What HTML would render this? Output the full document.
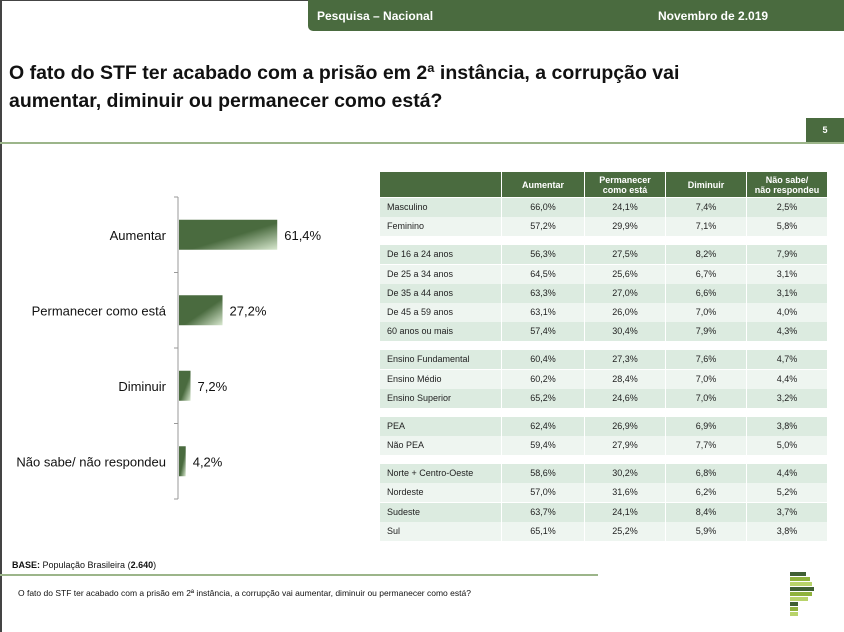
<!DOCTYPE html>
<html><head><meta charset="utf-8"><style>
body{margin:0;width:844px;height:632px;position:relative;overflow:hidden;background:#fff;font-family:"Liberation Sans",sans-serif;}
.abs{position:absolute;}
.row{position:absolute;left:380px;width:448px;height:19px;font-size:9px;color:#222;}
.row div{position:absolute;top:0;height:19px;line-height:19px;border-right:1px solid #fff;box-sizing:border-box;}
.hd div{color:#fff;font-weight:bold;text-align:center;display:flex;align-items:center;justify-content:center;line-height:10px;font-size:9px;}
</style></head><body>
<div class="abs" style="left:0;top:0;width:2px;height:632px;background:#444"></div>
<div class="abs" style="left:0;top:0;width:844px;height:1px;background:#444"></div>
<div class="abs" style="left:308px;top:0;width:536px;height:31px;background:#4a6b3f;border-bottom-left-radius:5px"></div>
<div class="abs" style="left:317px;top:9px;color:#fff;font-weight:bold;font-size:12px">Pesquisa – Nacional</div>
<div class="abs" style="left:658px;top:9px;color:#fff;font-weight:bold;font-size:12px">Novembro de 2.019</div>
<div class="abs" style="left:9px;top:59px;font-size:19.5px;font-weight:bold;line-height:28px;color:#111">O fato do STF ter acabado com a prisão em 2ª instância, a corrupção vai<br>aumentar, diminuir ou permanecer como está?</div>
<div class="abs" style="left:806px;top:118px;width:38px;height:24px;background:#4a6b3f;color:#fff;font-size:9px;font-weight:bold;text-align:center;line-height:24px">5</div>
<div class="abs" style="left:0;top:142px;width:844px;height:2px;background:#9cb58a"></div>

<svg class="abs" style="left:0;top:0" width="380" height="540" id="chart">
<defs><linearGradient id="g" x1="0" y1="0" x2="1" y2="1"><stop offset="0.55" stop-color="#4a6b3f"/><stop offset="1" stop-color="#d8e8cf"/></linearGradient></defs>
</svg>

<div id="table"></div>

<div class="abs" style="left:12px;top:560px;font-size:9px;color:#111"><b>BASE:</b> População Brasileira (<b>2.640</b>)</div>
<div class="abs" style="left:0;top:574px;width:598px;height:2px;background:#9cb58a"></div>
<div class="abs" style="left:18px;top:588px;font-size:8.5px;color:#111">O fato do STF ter acabado com a prisão em 2ª instância, a corrupção vai aumentar, diminuir ou permanecer como está?</div>
<svg class="abs" style="left:788px;top:568px" width="44" height="52">
<rect x="2" y="4" width="16" height="4" fill="#3f5f33"/><rect x="2" y="9" width="20" height="4" fill="#8fb23c"/><rect x="2" y="14" width="22" height="4" fill="#b8d36a"/><rect x="2" y="19" width="24" height="4" fill="#3f5f33"/><rect x="2" y="24" width="22" height="4" fill="#8fb23c"/><rect x="2" y="29" width="18" height="4" fill="#b8d36a"/><rect x="2" y="34" width="8" height="4" fill="#3f5f33"/><rect x="2" y="39" width="8" height="4" fill="#8fb23c"/><rect x="2" y="44" width="8" height="4" fill="#b8d36a"/>
</svg>

<script>
const categories=["Aumentar","Permanecer como está","Diminuir","Não sabe/ não respondeu"];
const values=[61.4,27.2,7.2,4.2];
const labels=["61,4%","27,2%","7,2%","4,2%"];
const SVGNS="http://www.w3.org/2000/svg";
const svg=document.getElementById('chart');
const x0=178,yTop=197,yBot=499,scale=1.6;
const band=(yBot-yTop)/categories.length;
function xs(v){return x0+v*scale;}
function yc(i){return yTop+band*(i+0.5);}
function mk(t,a){const e=document.createElementNS(SVGNS,t);for(const k in a)e.setAttribute(k,a[k]);svg.appendChild(e);return e;}
const ax=mk('line',{x1:x0,y1:yTop,x2:x0,y2:yBot,stroke:'#999','stroke-width':1});


for(let i=0;i<=categories.length;i++){const y=yTop+band*i;const t=mk('line',{x1:x0-4,y1:y,x2:x0,y2:y,stroke:'#999'});

}
categories.forEach((c,i)=>{
 const y=yc(i);
 const r=mk('rect',{x:x0+1,y:y-15,width:xs(values[i])-x0,height:30,fill:'url(#g)'});
 
 
 const l=mk('text',{x:x0-12,y:y+5,'text-anchor':'end','font-size':13,fill:'#111','font-family':'Liberation Sans'});l.textContent=c;
 
 
 const v=mk('text',{x:xs(values[i])+8,y:y+5,'font-size':13,fill:'#111','font-family':'Liberation Sans'});v.textContent=labels[i];
 
 
});

const rowNames=["Masculino","Feminino","De 16 a 24 anos","De 25 a 34 anos","De 35 a 44 anos","De 45 a 59 anos","60 anos ou mais","Ensino Fundamental","Ensino Médio","Ensino Superior","PEA","Não PEA","Norte + Centro-Oeste","Nordeste","Sudeste","Sul"];
const colAumentar=["66,0%","57,2%","56,3%","64,5%","63,3%","63,1%","57,4%","60,4%","60,2%","65,2%","62,4%","59,4%","58,6%","57,0%","63,7%","65,1%"];
const colPermanecer=["24,1%","29,9%","27,5%","25,6%","27,0%","26,0%","30,4%","27,3%","28,4%","24,6%","26,9%","27,9%","30,2%","31,6%","24,1%","25,2%"];
const colDiminuir=["7,4%","7,1%","8,2%","6,7%","6,6%","7,0%","7,9%","7,6%","7,0%","7,0%","6,9%","7,7%","6,8%","6,2%","8,4%","5,9%"];
const colNS=["2,5%","5,8%","7,9%","3,1%","3,1%","4,0%","4,3%","4,7%","4,4%","3,2%","3,8%","5,0%","4,4%","5,2%","3,7%","3,8%"];
const groups=[2,5,3,2,4];
const colL=[0,122,205,286,367],colW=[122,83,81,81,81];
const tbl=document.getElementById('table');
const hd=document.createElement('div');hd.className='row hd';hd.style.top='172px';hd.style.height='25px';


["","Aumentar","Permanecer<br>como está","Diminuir","Não sabe/<br>não respondeu"].forEach((h,j)=>{const d=document.createElement('div');d.style.left=colL[j]+'px';d.style.width=colW[j]+'px';d.style.height='25px';d.style.background='#4a6b3f';d.innerHTML=h;hd.appendChild(d);});
tbl.appendChild(hd);
let rowTop=198,k=0;
groups.forEach((g,gi)=>{
 for(let r=0;r<g;r++,k++){
  const row=document.createElement('div');row.className='row';row.style.top=Math.round(rowTop)+'px';
  
  
  const cells=[rowNames[k],colAumentar[k],colPermanecer[k],colDiminuir[k],colNS[k]];
  cells.forEach((c,j)=>{const d=document.createElement('div');d.style.left=colL[j]+'px';d.style.width=colW[j]+'px';d.style.background=(r%2==0)?'#dcebe0':'#eef5f0';d.style.textAlign=j?'center':'left';if(!j)d.style.paddingLeft='7px';d.textContent=c;row.appendChild(d);});
  tbl.appendChild(row);rowTop+=19.3;
 }
 rowTop+=8.6;
});
</script>
</body></html>
